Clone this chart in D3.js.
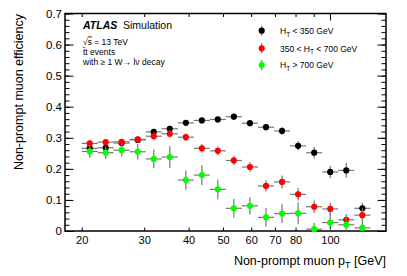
<!DOCTYPE html>
<html>
<head>
<meta charset="utf-8">
<script src="https://cdn.jsdelivr.net/npm/d3@7"></script>
<style>
  body { margin: 0; background: #fff; }
  svg { display: block; font-family: "Liberation Sans", Arial, Helvetica, sans-serif; }
</style>
</head>
<body>
<div class="graph-container"></div>
<script>
// Bin edges in non-prompt muon pT [GeV] (log-spaced bins)
const binEdges = [20, 22.2, 24.6, 27.3, 30.3, 33.6, 37.3, 41.4, 45.9, 50.9,
                  56.5, 62.7, 69.6, 77.2, 85.7, 95.1, 105.5, 117.1, 130];

// Efficiencies per bin
const effLow  = [0.266, 0.268, 0.283, 0.293, 0.319, 0.329, 0.348, 0.356, 0.359,
                 0.368, 0.347, 0.334, 0.322, 0.274, 0.252, 0.190, 0.195, 0.073];
const errLow  = [0.012, 0.010, 0.010, 0.010, 0.010, 0.010, 0.008, 0.008, 0.008,
                 0.008, 0.010, 0.010, 0.012, 0.015, 0.018, 0.020, 0.024, 0.018];

const effMid  = [0.282, 0.286, 0.287, 0.295, 0.305, 0.313, 0.302, 0.266, 0.258,
                 0.227, 0.206, 0.145, 0.158, 0.118, 0.078, 0.071, 0.036, 0.051];
const errMid  = [0.010, 0.010, 0.010, 0.010, 0.012, 0.012, 0.012, 0.014, 0.014,
                 0.015, 0.015, 0.018, 0.021, 0.020, 0.020, 0.020, 0.019, 0.022];

const effHigh = [0.256, 0.252, 0.260, 0.255, 0.232, 0.238, 0.164, 0.180, 0.134,
                 0.073, 0.081, 0.044, 0.056, 0.057, 0.006, 0.027, 0.020, 0.010];
const errHigh = [0.020, 0.020, 0.020, 0.025, 0.030, 0.035, 0.031, 0.032, 0.032,
                 0.030, 0.028, 0.030, 0.030, 0.035, 0.020, 0.030, 0.025, 0.022];

const seriesColors = ['#000000', '#ff0000', '#00ff00'];
const legendLabels = ['H_T < 350 GeV', '350 < H_T < 700 GeV', 'H_T > 700 GeV'];

// Axis ticks
const xMinorTicks = [20, 30, 40, 50, 60, 70, 80, 90];
const xMajorTicks = [100];
const xLabels = [20, 30, 40, 50, 60, 70, 80, 100];
const yTicks = [0, 0.1, 0.2, 0.3, 0.4, 0.5, 0.6, 0.7];

const width = 407, height = 276;
const frame = {left: 65, right: 386, top: 13.5, bottom: 231};

const svg = d3.select('.graph-container')
              .append('svg')
              .attr('width', width)
              .attr('height', height);

const x = d3.scaleLog()
            .domain([17.95, 143.8])
            .range([frame.left, frame.right]);
const y = d3.scaleLinear()
            .domain([0, 0.7])
            .range([frame.bottom, frame.top]);

const yMinor = d3.range(0, 0.7001, 0.02);

// Helper: strip d3 axis defaults
function tidy(g, size) {
  g.attr('font-family', null).attr('font-size', size);
  g.select('.domain').remove();
  g.selectAll('line').attr('stroke-width', 1);
  return g;
}

// Y axes (left with labels, right mirrored)
svg.append('g')
   .attr('transform', `translate(${frame.left},0)`)
   .call(d3.axisLeft(y).tickValues(yMinor).tickSizeInner(-4.5).tickSizeOuter(0).tickFormat(''))
   .call(g => tidy(g, 11.5));
svg.append('g')
   .attr('transform', `translate(${frame.left},0)`)
   .call(d3.axisLeft(y).tickValues(yTicks).tickSizeInner(-8.5).tickSizeOuter(0).tickPadding(3)
           .tickFormat(d => d === 0 ? '0' : d.toFixed(1)))
   .call(g => tidy(g, 11.5));
svg.append('g')
   .attr('transform', `translate(${frame.right},0)`)
   .call(d3.axisRight(y).tickValues(yMinor).tickSizeInner(-4.5).tickSizeOuter(0).tickFormat(''))
   .call(g => tidy(g, 11.5));
svg.append('g')
   .attr('transform', `translate(${frame.right},0)`)
   .call(d3.axisRight(y).tickValues(yTicks).tickSizeInner(-8.5).tickSizeOuter(0).tickFormat(''))
   .call(g => tidy(g, 11.5));

// X axes (bottom with labels, top mirrored)
const labelFmt = d => xLabels.includes(d) ? d : '';
svg.append('g')
   .attr('transform', `translate(0,${frame.bottom})`)
   .call(d3.axisBottom(x).tickValues(xMinorTicks).tickSizeInner(-3.5).tickSizeOuter(0)
           .tickPadding(5).tickFormat(labelFmt))
   .call(g => tidy(g, 11));
svg.append('g')
   .attr('transform', `translate(0,${frame.bottom})`)
   .call(d3.axisBottom(x).tickValues(xMajorTicks).tickSizeInner(-7).tickSizeOuter(0)
           .tickPadding(5).tickFormat(labelFmt))
   .call(g => tidy(g, 11));
svg.append('g')
   .attr('transform', `translate(0,${frame.top})`)
   .call(d3.axisTop(x).tickValues(xMinorTicks).tickSizeInner(-3.5).tickSizeOuter(0).tickFormat(''))
   .call(g => tidy(g, 11));
svg.append('g')
   .attr('transform', `translate(0,${frame.top})`)
   .call(d3.axisTop(x).tickValues(xMajorTicks).tickSizeInner(-7).tickSizeOuter(0).tickFormat(''))
   .call(g => tidy(g, 11));

// Frame
svg.append('rect')
   .attr('x', frame.left)
   .attr('y', frame.top)
   .attr('width', frame.right - frame.left)
   .attr('height', frame.bottom - frame.top)
   .attr('fill', 'none')
   .attr('stroke', '#000')
   .attr('stroke-width', 1.5);

// Data: black, then red, then green on top
const series = [
  {eff: effLow, err: errLow, color: seriesColors[0]},
  {eff: effMid, err: errMid, color: seriesColors[1]},
  {eff: effHigh, err: errHigh, color: seriesColors[2]}
];

const plot = svg.append('g').attr('class', 'plot');

series.forEach(s => {
  let pts = s.eff.map((v, i) => ({
    lo: binEdges[i],
    hi: binEdges[i + 1],
    c: Math.sqrt(binEdges[i] * binEdges[i + 1]),
    v: v,
    e: s.err[i]
  }));

  let g = plot.append('g');

  g.selectAll('.hbar')
   .data(pts)
   .enter().append('line')
   .attr('x1', d => x(d.lo))
   .attr('x2', d => x(d.hi))
   .attr('y1', d => y(d.v))
   .attr('y2', d => y(d.v))
   .attr('stroke', '#777')
   .attr('stroke-width', 1.2);

  g.selectAll('.vbar')
   .data(pts)
   .enter().append('line')
   .attr('x1', d => x(d.c))
   .attr('x2', d => x(d.c))
   .attr('y1', d => y(Math.max(0, d.v - d.e)))
   .attr('y2', d => y(d.v + d.e))
   .attr('stroke', '#777')
   .attr('stroke-width', 1.2);

  g.selectAll('circle')
   .data(pts)
   .enter().append('circle')
   .attr('cx', d => x(d.c))
   .attr('cy', d => y(d.v))
   .attr('r', 3.1)
   .attr('fill', s.color);
});

// Text with a "_T" subscript
function subText(sel, str, subSize) {
  let parts = str.split('_T');
  sel.append('tspan').text(parts[0]);
  if (parts.length > 1) {
    sel.append('tspan').attr('dy', 2.5).attr('font-size', subSize).text('T');
    sel.append('tspan').attr('dy', -2.5).text(parts[1]);
  }
}

// Legend
const legendY = [30.7, 48.3, 65];
legendLabels.forEach((lab, i) => {
  let g = svg.append('g').attr('class', 'legend');
  g.append('line')
   .attr('x1', 261.7).attr('x2', 261.7)
   .attr('y1', legendY[i] - 5).attr('y2', legendY[i] + 5)
   .attr('stroke', '#777')
   .attr('stroke-width', 1.2);
  g.append('circle')
   .attr('cx', 261.7)
   .attr('cy', legendY[i])
   .attr('r', 3.1)
   .attr('fill', seriesColors[i]);
  let t = g.append('text')
           .attr('x', 280)
           .attr('y', legendY[i] + 3.3)
           .attr('font-size', 8.5);
  subText(t, lab, 6.5);
});

// ATLAS label block
svg.append('text')
   .attr('x', 83)
   .attr('y', 29.3)
   .attr('font-size', 10.5)
   .attr('font-weight', 'bold')
   .attr('font-style', 'italic')
   .text('ATLAS');
svg.append('text')
   .attr('x', 123)
   .attr('y', 29.3)
   .attr('font-size', 10.5)
   .text('Simulation');

let sq = svg.append('text')
            .attr('x', 83)
            .attr('y', 44.5)
            .attr('font-size', 8.5);
sq.append('tspan').text('\u221A');
sq.append('tspan').attr('text-decoration', 'overline').text('s');
sq.append('tspan').text(' = 13 TeV');

svg.append('text')
   .attr('x', 83)
   .attr('y', 54.5)
   .attr('font-size', 8.5)
   .text('t\u0304t events');

svg.append('text')
   .attr('x', 83)
   .attr('y', 64.5)
   .attr('font-size', 8.5)
   .text('with \u2265 1 W\u2192 l\u03BD decay');

// Axis titles
svg.append('text')
   .attr('transform', 'translate(23,14) rotate(-90)')
   .attr('text-anchor', 'end')
   .attr('font-size', 12.5)
   .text('Non-prompt muon efficiency');

let xt = svg.append('text')
            .attr('x', frame.right)
            .attr('y', 265)
            .attr('text-anchor', 'end')
            .attr('font-size', 12.5);
subText(xt, 'Non-prompt muon p_T [GeV]', 9);
</script>
</body>
</html>
